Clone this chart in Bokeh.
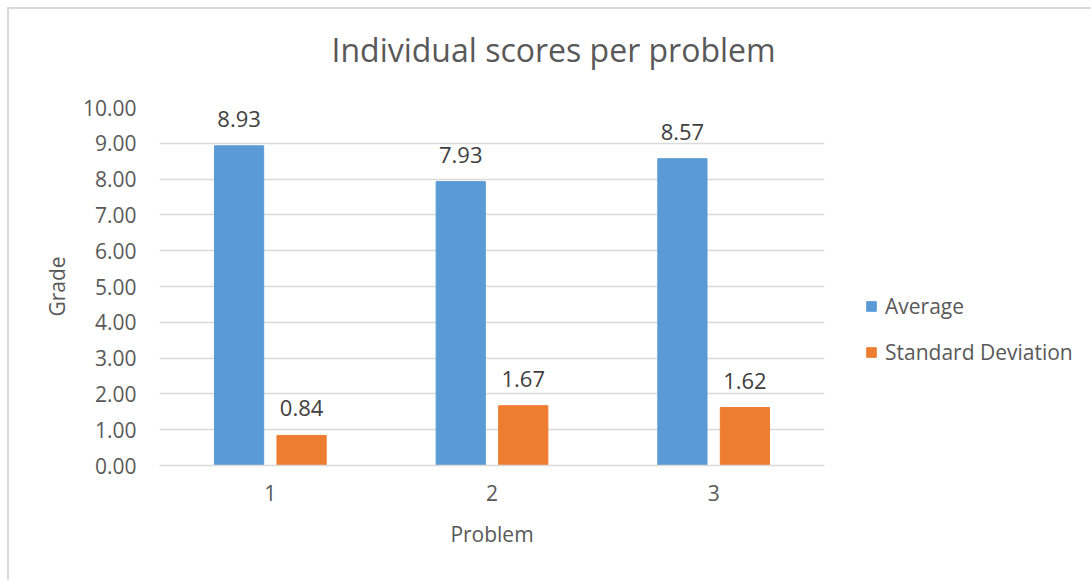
from bokeh.plotting import figure
from bokeh.models import ColumnDataSource, FactorRange, Range1d, LabelSet, Legend, LegendItem, NumeralTickFormatter
from bokeh.core.properties import value
from bokeh.transform import dodge
from bokeh.embed import file_html
from bokeh.resources import INLINE

problems = ["1", "2", "3"]
average = [8.93, 7.93, 8.57]
std_dev = [0.84, 1.67, 1.62]
avg_labels = ["8.93", "7.93", "8.57"]
sd_labels = ["0.84", "1.67", "1.62"]
title_text = "Individual scores per problem"

FONT = "Open Sans"
TXT = "#595959"

src = ColumnDataSource(dict(problem=problems, average=average, std=std_dev,
                            avg_lbl=avg_labels, sd_lbl=sd_labels))

p = figure(frame_width=665, frame_height=358, output_backend="svg", toolbar_location=None,
           x_range=FactorRange(*problems), y_range=Range1d(0, 10))
p.margin = (7, 0, 0, 7)
p.min_border_left = 150
p.min_border_right = 250
p.min_border_top = 98
p.min_border_bottom = 115
p.outline_line_color = None
p.background_fill_color = "white"
p.border_fill_color = "white"
p.styles = {"border-top": "2px solid #d9d9d9", "border-left": "2px solid #d9d9d9"}

# trailing empty line lifts the title further above the plot area
p.title.text = title_text + "\n"
p.title.text_font = FONT
p.title.text_font_size = "32px"
p.title.text_font_style = "normal"
p.title.text_color = TXT
p.title.text_line_height = 0.8
p.title.align = "left"
p.title.vertical_align = "bottom"
p.title.standoff = 4
p.title.offset = 172

r1 = p.vbar(x=dodge("problem", -0.141, range=p.x_range), top="average", width=0.222,
            source=src, fill_color="#5B9BD5", line_color="#5B9BD5")
r2 = p.vbar(x=dodge("problem", 0.141, range=p.x_range), top="std", width=0.222,
            source=src, fill_color="#ED7D31", line_color="#ED7D31")

for fld, lbl, off in [("average", "avg_lbl", -0.141), ("std", "sd_lbl", 0.141)]:
    ls = LabelSet(x=dodge("problem", off, range=p.x_range), y=fld, text=lbl, source=src,
                  text_align="center", text_baseline="alphabetic", y_offset=19,
                  text_font=value(FONT), text_font_size=value("22px"), text_color="#404040")
    p.add_layout(ls)

p.yaxis.ticker = [0, 1, 2, 3, 4, 5, 6, 7, 8, 9, 10]
p.yaxis.formatter = NumeralTickFormatter(format="0.00")
p.yaxis.axis_line_color = None
p.yaxis.major_tick_line_color = None
p.yaxis.minor_tick_line_color = None
p.yaxis.major_tick_out = 0
p.yaxis.minor_tick_out = 0
p.yaxis.major_label_standoff = 23
p.yaxis.axis_label = "Grade"
p.yaxis.axis_label_standoff = 9

p.xaxis.axis_line_color = "#d9d9d9"
p.xaxis.axis_line_width = 1.5
p.xaxis.major_tick_line_color = None
p.xaxis.minor_tick_line_color = None
p.xaxis.major_tick_out = 0
p.xaxis.minor_tick_out = 0
p.xaxis.major_label_standoff = 19
p.xaxis.axis_label = "Problem"
p.xaxis.axis_label_standoff = 16

for ax in (p.xaxis[0], p.yaxis[0]):
    ax.major_label_text_font = FONT
    ax.major_label_text_font_size = "21px"
    ax.major_label_text_color = TXT
    ax.axis_label_text_font = FONT
    ax.axis_label_text_font_size = "21px"
    ax.axis_label_text_font_style = "normal"
    ax.axis_label_text_color = TXT

p.xgrid.grid_line_color = None
p.ygrid.grid_line_color = "#d9d9d9"
p.ygrid.grid_line_width = 1.5

legend = Legend(items=[LegendItem(label="Average", renderers=[r1]),
                       LegendItem(label="Standard Deviation", renderers=[r2])],
                location=(41, 99), orientation="vertical",
                label_text_font=FONT, label_text_font_size="21px", label_text_color=TXT,
                glyph_width=12, glyph_height=12, label_height=20, spacing=18,
                label_standoff=8, padding=0, margin=0, border_line_color=None,
                background_fill_alpha=0)
p.add_layout(legend, "right")

open("out.html", "w").write(file_html(p, INLINE))
